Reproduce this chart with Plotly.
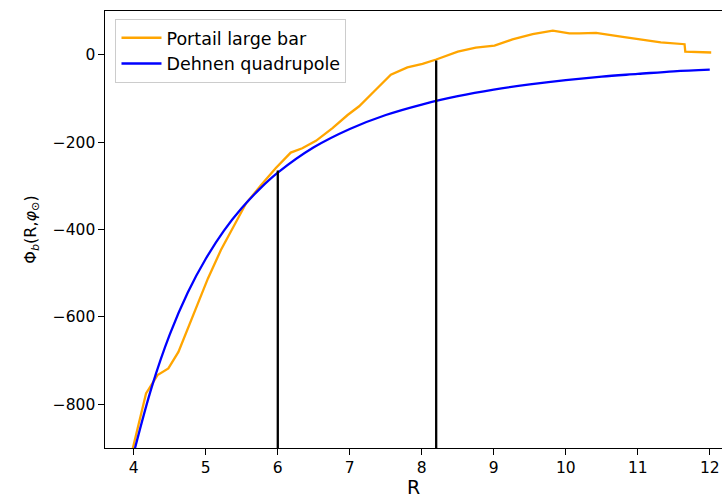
import plotly.graph_objects as go

# Orange: Portail large bar
portail_R = [3.98, 4.17, 4.33, 4.48, 4.62, 4.82, 5.03, 5.21, 5.35, 5.56, 5.76, 5.97,
             6.18, 6.34, 6.53, 6.76, 6.97, 7.13, 7.35, 7.57, 7.80, 8.01, 8.20, 8.50,
             8.75, 9.01, 9.26, 9.54, 9.82, 10.05, 10.19, 10.42, 10.79, 11.02, 11.32,
             11.65, 11.66, 12.02]
portail_phi = [-905, -775, -733, -718, -680, -600, -512, -447, -405, -340, -300, -260,
               -224, -214, -197, -168, -138, -118, -82, -46, -29, -21, -11, 7,
               16, 21, 35, 47, 55, 49, 49, 50, 41, 36, 28,
               24, 7, 5]

# Blue: Dehnen quadrupole
dehnen_R = [4.0, 4.25, 4.5, 4.75, 5.0, 5.25, 5.5, 5.75, 6.0, 6.5, 7.0, 7.5, 8.0,
            8.5, 9.0, 9.5, 10.0, 10.5, 11.0, 11.5, 12.0]
dehnen_phi = [-911, -760, -640, -544, -467, -403, -351, -307, -270, -212, -170, -138, -114,
              -95, -80, -68, -58, -50, -44, -38, -34]

# Vertical markers
vline_R = [6.0, 8.2]
vline_top = [-265, -13]
y_min, y_max = -900, 100
x_min, x_max = 3.6, 12.17

font = "DejaVu Sans"
fig = go.Figure()
fig.add_trace(go.Scatter(x=portail_R, y=portail_phi, mode="lines", name="Portail large bar",
                         line=dict(color="#FFA500", width=2.3)))
fig.add_trace(go.Scatter(x=dehnen_R, y=dehnen_phi, mode="lines", name="Dehnen quadrupole",
                         line=dict(color="#0000FF", width=2.3, shape="spline")))
for r, top in zip(vline_R, vline_top):
    fig.add_trace(go.Scatter(x=[r, r], y=[y_min, top], mode="lines", showlegend=False,
                             line=dict(color="black", width=2.3)))

fig.update_layout(
    width=722, height=498,
    margin=dict(l=105, r=0, t=11, b=50),
    paper_bgcolor="white", plot_bgcolor="white",
    font=dict(family=font, size=15.5, color="black"),
    showlegend=True,
    legend=dict(x=0.017, y=0.982, xanchor="left", yanchor="top",
                bgcolor="rgba(255,255,255,0.8)", bordercolor="#cccccc", borderwidth=1,
                font=dict(size=17.5), tracegroupgap=0, itemwidth=40),
)
fig.update_xaxes(range=[x_min, x_max], showgrid=False, zeroline=False,
                 showline=True, linecolor="black", linewidth=1.25, mirror=True,
                 ticks="outside", ticklen=5.5, tickwidth=1.25, tickcolor="black",
                 tickvals=[4, 5, 6, 7, 8, 9, 10, 11, 12],
                 title=dict(text="R", standoff=6))
fig.update_yaxes(range=[y_min, y_max], showgrid=False, zeroline=False,
                 showline=True, linecolor="black", linewidth=1.25,
                 ticks="outside", ticklen=5.5, tickwidth=1.25, tickcolor="black",
                 tickvals=[-800, -600, -400, -200, 0],
                 title=dict(text="Φ<sub><i>b</i></sub>(R,<i>φ</i><sub>⊙</sub>)", standoff=12,
                            font=dict(size=16)))

fig.write_html("out.html")
